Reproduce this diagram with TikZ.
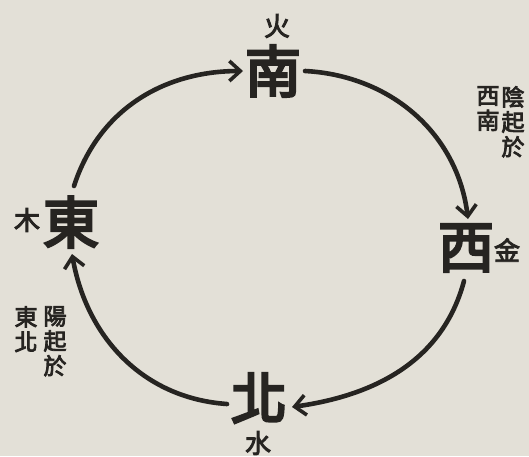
\documentclass[tikz,border=0pt]{standalone}
\usepackage{fontspec}
\newfontfamily\cjk[FakeBold=4.5]{Noto Sans CJK TC}
\newfontfamily\cjks[FakeBold=3.5]{Noto Sans CJK TC}
\usetikzlibrary{arrows.meta}
\definecolor{paper}{RGB}{227,224,215}
\definecolor{ink}{RGB}{38,36,33}
\begin{document}
\begin{tikzpicture}[x=1pt,y=-1pt,
  big/.style={font=\cjk\fontsize{56}{56}\selectfont, text=ink, inner sep=0pt},
  small/.style={font=\cjks\fontsize{26}{26}\selectfont, text=ink, inner sep=0pt},
  vert/.style={font=\cjks\fontsize{23}{25}\selectfont, text=ink, align=center, inner sep=0pt, anchor=north},
  flow/.style={draw=ink, line width=4.6pt, line cap=round,
    -{Straight Barb[length=11pt,width=20pt,line width=3.6pt]}}]
\fill[paper] (0,0) rectangle (529,456);
\useasboundingbox (0,0) rectangle (529,456);
% cardinal points
\node[big] (nan) at (273,71) {南};
\node[big] (xi)  at (466,248) {西};
\node[big] (bei) at (259,398) {北};
\node[big] (dong) at (71,222) {東};
% elements
\node[small] (huo) at (277,26) {火};
\node[small] (jin) at (507,250) {金};
\node[small] (shui) at (258,443) {水};
\node[small] (mu) at (27,220) {木};
% vertical notes
\node[vert] (yin1) at (513,86) {陰\\起\\於};
\node[vert] (yin2) at (488,86) {西\\南};
\node[vert] (yang1) at (55,306) {陽\\起\\於};
\node[vert] (yang2) at (26,306) {東\\北};
% connectors
\draw[flow] ([xshift=3pt,yshift=36pt]dong.center) to[out=72,in=180] ([xshift=-30pt]nan.center);
\draw[flow] ([xshift=32pt]nan.center) to[out=-3,in=97] ([xshift=2pt,yshift=29pt]xi.center);
\draw[flow] ([xshift=-2pt,yshift=-33pt]xi.center) to[out=-105,in=8] ([xshift=33pt,yshift=-9pt]bei.center);
\draw[flow] ([xshift=-32pt,yshift=-6pt]bei.center) to[out=176,in=-80] ([xshift=1pt,yshift=-32pt]dong.center);
\end{tikzpicture}
\end{document}
